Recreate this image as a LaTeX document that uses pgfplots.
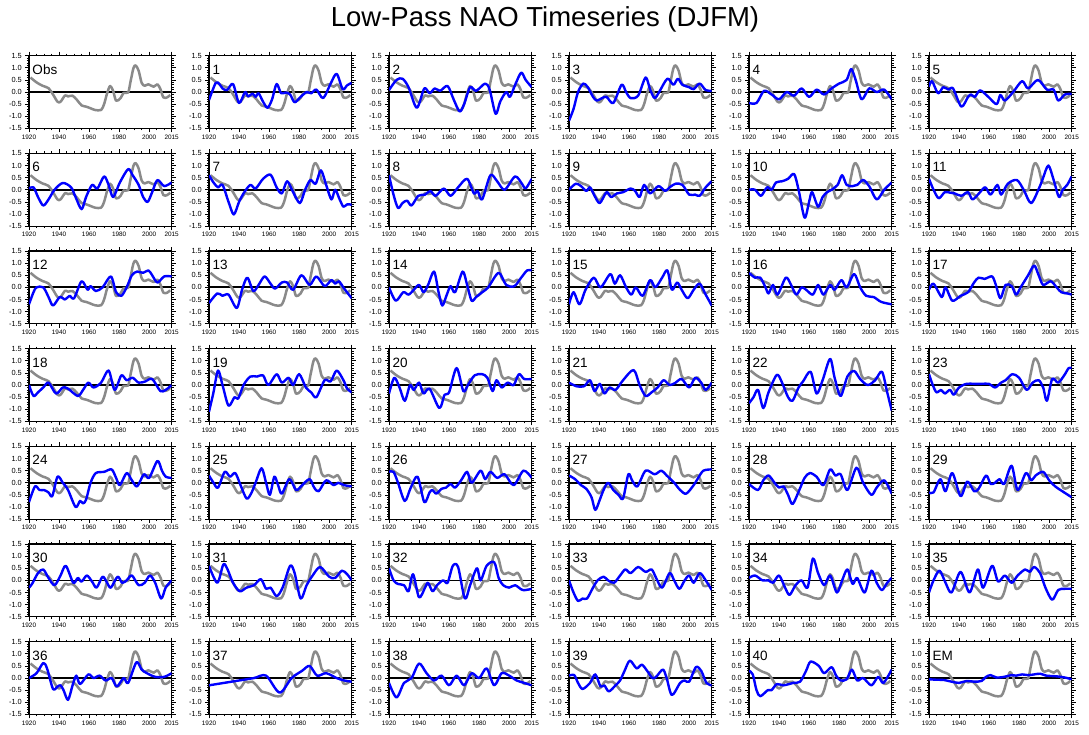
\documentclass[border=0pt]{standalone}
\usepackage{fontspec}
\setmainfont{Liberation Sans}
\usepackage{pgfplots}
\usepackage{pgfplotstable}
\pgfplotsset{compat=1.18}
\definecolor{obsgray}{RGB}{138,138,138}
\definecolor{mblue}{RGB}{0,0,255}

% observed low-pass NAO, repeated in every panel
\pgfplotstableread{
year nao
1921 0.60
1925 0.40
1929 0.26
1933 0.16
1936 -0.10
1939 -0.40
1941 -0.40
1944 -0.14
1946 -0.18
1949 -0.15
1952 -0.33
1955 -0.55
1958 -0.60
1961 -0.67
1964 -0.74
1968 -0.74
1970 -0.50
1972 -0.05
1974 0.25
1976 0.05
1978 -0.36
1981 -0.25
1983 -0.03
1986 -0.02
1987.5 0.40
1989.5 0.98
1991 1.10
1993 0.88
1995 0.38
1997 0.26
1999.5 0.32
2003 0.22
2005.5 0.32
2007.5 0.12
2009.5 -0.22
2012 -0.22
2014 -0.12
}\obstab

\pgfplotsset{
  panel/.style={
    scale only axis, width=142.7pt, height=72.7pt, anchor=north west,
    xmin=1920, xmax=2015, ymin=-1.5, ymax=1.5,
    xtick={1920,1940,1960,1980,2000,2015},
    xticklabels={1920,1940,1960,1980,2000,2015},
    minor xtick={1925,1930,1935,1945,1950,1955,1965,1970,1975,1985,1990,1995,2005,2010},
    ytick={-1.5,-1,-0.5,0,0.5,1,1.5},
    yticklabels={-1.5,-1.0,-0.5,0.0,0.5,1.0,1.5},
    minor y tick num=4,
    tick align=outside,
    major tick length=4pt, minor tick length=2pt,
    every tick/.style={black, line width=0.7pt},
    axis line style={line width=1.1pt},
    xticklabel style={font=\fontsize{6.4}{7}\selectfont, inner sep=1pt, yshift=-1pt},
    yticklabel style={font=\fontsize{7.4}{8}\selectfont, inner sep=1pt, xshift=-2pt},
  },
  zero/.style={black, line width=1.7pt, forget plot},
  obs/.style={obsgray, line width=2.5pt, smooth, line join=round},
  model/.style={mblue, line width=2.4pt, smooth, line join=round},
}

\newcommand{\plabel}[1]{\node[anchor=base west, inner sep=0pt, font=\fontsize{13.5}{14}\selectfont,
  xshift=3.3pt, yshift=-18.5pt] at (rel axis cs:0,1) {#1};}

\newcommand{\panel}[4]{%
  \begin{axis}[panel, at={(#1pt,-#2pt)}]
    \addplot[zero] coordinates {(1920,0) (2015,0)};
    \addplot[obs] table[x=year, y=nao] {\obstab};
    \addplot[model] coordinates {#4};
    \plabel{#3}
  \end{axis}}

\begin{document}
\begin{tikzpicture}[x=1pt,y=1pt]
\useasboundingbox (0,0) rectangle (1089,-735);
\node[font=\fontsize{27.5}{30}\selectfont, anchor=base] at (545,-27) {Low-Pass NAO Timeseries (DJFM)};

% row 0
\begin{axis}[panel, at={(29pt,-55.7pt)}]
  \addplot[zero] coordinates {(1920,0) (2015,0)};
  \addplot[obs] table[x=year, y=nao] {\obstab};
  \plabel{Obs}
\end{axis}
\panel{209}{55.7}{1}{(1920,-0.33) (1924.5,0.38) (1927,0.32) (1929,0.15) (1932,0.08) (1936,0.33) (1940,-0.45) (1944,0.0) (1946,-0.18) (1949,-0.06) (1951,-0.2) (1953,-0.05) (1956,-0.4) (1959,-0.65) (1962,-0.3) (1965,0.33) (1968,-0.05) (1971,-0.02) (1974,-0.1) (1977,-0.42) (1981,-0.2) (1985,0.0) (1988,-0.05) (1991.5,0.1) (1996,-0.25) (2001,0.35) (2005,0.75) (2009,0.12) (2012,0.28) (2015,0.38)}
\panel{389}{55.7}{2}{(1920,0.08) (1925,0.5) (1929,0.55) (1933,0.2) (1938.5,-0.65) (1943.5,0.15) (1947,-0.05) (1950.5,0.15) (1954,0.05) (1959,0.25) (1963,-0.3) (1967,-0.8) (1970,-0.5) (1974,0.2) (1978,0.05) (1984,0.35) (1987,0.1) (1991,-0.9) (1994,-0.4) (1998,0.0) (2000.5,-0.2) (2004,0.3) (2008,0.8) (2011,0.5) (2015,0.2)}
\panel{569}{55.7}{3}{(1920,-1.18) (1923,-0.7) (1926,0.0) (1929.5,0.35) (1932.5,0.2) (1936,-0.2) (1938.5,-0.35) (1942,-0.25) (1945,-0.2) (1949.5,-0.45) (1955,0.3) (1958,0.0) (1961,-0.25) (1966,-0.15) (1971,0.6) (1974,0.1) (1977,-0.25) (1980,0.0) (1985.5,0.55) (1989.5,0.3) (1992.5,0.55) (1995.5,0.3) (2000,0.2) (2003,0.12) (2007,0.35) (2011,0.08) (2015,0.05)}
\panel{749}{55.7}{4}{(1920,-0.45) (1925,-0.45) (1930,0.05) (1935,-0.1) (1940,-0.3) (1945,0.0) (1950,-0.15) (1955,0.15) (1960,-0.2) (1965,0.1) (1970,-0.1) (1975,0.15) (1980,0.35) (1985,0.5) (1988,0.95) (1991,0.5) (1995,-0.3) (2000,0.15) (2005,0.0) (2010,0.1) (2015,-0.3)}
\panel{929}{55.7}{5}{(1920,0.22) (1922,0.45) (1926,-0.05) (1929.5,0.2) (1933,0.1) (1936,0.15) (1941.5,-0.6) (1946,-0.2) (1948,-0.1) (1950.5,-0.2) (1954,0.07) (1959.5,-0.2) (1965,-0.5) (1967.5,-0.12) (1970.5,-0.35) (1976,0.0) (1982,0.45) (1986,0.15) (1992.5,0.5) (1998.5,0.1) (2003,0.1) (2006,-0.35) (2010.5,-0.1) (2015,-0.08)}

% row 1
\panel{29}{153.4}{6}{(1920,0.05) (1923,0.1) (1926,-0.3) (1929.5,-0.65) (1933,-0.4) (1937,0.0) (1942.5,0.28) (1948,0.1) (1951,-0.3) (1955,-0.8) (1958,-0.3) (1962,0.2) (1965.5,0.05) (1970,0.55) (1973,0.2) (1976,-0.3) (1980.5,0.3) (1986,0.85) (1989,0.6) (1993,0.2) (1996,-0.3) (1999,-0.5) (2002,-0.1) (2005.5,0.4) (2010,0.15) (2015,0.3)}
\panel{209}{153.4}{7}{(1920,0.6) (1923,0.3) (1926,0.1) (1929,0.2) (1933,-0.5) (1936.5,-1.02) (1940,-0.5) (1943,-0.15) (1947.5,0.2) (1951,0.05) (1956,0.45) (1961,0.62) (1965,0.1) (1968.5,-0.15) (1972,0.35) (1976,-0.1) (1980.5,-0.55) (1984,0.0) (1987.5,0.4) (1991,0.25) (1994.5,0.8) (1998,0.2) (2001.5,-0.4) (2004,0.0) (2007,-0.4) (2009.5,-0.7) (2012,-0.6) (2015,-0.62)}
\panel{389}{153.4}{8}{(1920,0.6) (1923,-0.2) (1926,-0.75) (1929,-0.55) (1932,-0.45) (1935,-0.65) (1939.5,-0.25) (1944,-0.2) (1947.5,-0.05) (1951,-0.25) (1956.5,0.05) (1961,-0.25) (1966,0.1) (1972,0.45) (1976.5,-0.15) (1979,-0.05) (1982,-0.4) (1987.5,0.6) (1992,0.35) (1997,0.0) (2004,0.55) (2009,0.2) (2011,0.05) (2015,0.45)}
\panel{569}{153.4}{9}{(1920,0.0) (1924.5,0.25) (1928,0.15) (1931.5,-0.05) (1934,0.1) (1937,-0.25) (1940.5,-0.55) (1945,-0.1) (1948,-0.3) (1952,-0.15) (1956,-0.1) (1961,0.05) (1964,-0.05) (1967,-0.3) (1970,0.2) (1974,-0.15) (1979.5,0.15) (1984,-0.05) (1987,0.1) (1991,0.25) (1995.5,0.2) (2000,-0.2) (2004,-0.2) (2007,-0.25) (2011,0.1) (2015,0.35)}
\panel{749}{153.4}{10}{(1920,0.0) (1924,0.0) (1928,-0.25) (1932,0.1) (1935,0.0) (1938,0.3) (1942,0.35) (1946,0.45) (1950,0.65) (1953,0.0) (1957,-1.15) (1960,-0.5) (1962,-0.1) (1966,-0.7) (1969,-0.3) (1972,-0.1) (1975,0.0) (1979,0.2) (1982,0.6) (1985,0.2) (1989,0.15) (1992,0.2) (1996,0.4) (2000,0.15) (2005,-0.4) (2010,0.0) (2015,0.3)}
\panel{929}{153.4}{11}{(1920,0.45) (1923,0.0) (1926.5,-0.35) (1930.5,-0.1) (1934,-0.12) (1937,-0.15) (1941.5,-0.25) (1946,-0.1) (1949,-0.4) (1954,-0.1) (1957.5,0.1) (1961,-0.2) (1965.5,0.2) (1968,-0.2) (1972.5,0.25) (1978.5,0.4) (1983,0.0) (1988,-0.55) (1993.5,0.1) (1996,0.5) (1999.5,1.0) (2003,0.4) (2006.5,-0.3) (2009,0.0) (2012,0.2) (2015,0.55)}

% row 2
\panel{29}{251}{12}{(1920,-0.7) (1923,-0.2) (1925,0.0) (1929.5,0.0) (1933,-0.4) (1936,-0.75) (1940.5,-0.4) (1944,-0.5) (1947,-0.35) (1950,-0.45) (1955,0.25) (1959,-0.1) (1961,0.05) (1964.5,-0.15) (1969,0.0) (1974.5,0.45) (1978,-0.2) (1981.5,-0.35) (1985,0.0) (1988.5,0.5) (1992,0.65) (1996,0.6) (1999.5,0.7) (2002,0.5) (2005.5,0.2) (2010,0.45) (2015,0.45)}
\panel{209}{251}{13}{(1920,-0.65) (1925.5,-0.25) (1929,-0.35) (1933,-0.3) (1938.5,-0.85) (1942,-0.1) (1945.5,0.4) (1949.5,-0.15) (1953,0.1) (1957,0.45) (1961,0.15) (1964,-0.05) (1968.5,0.2) (1972,0.2) (1976,-0.1) (1981.5,0.5) (1987,0.1) (1991.5,0.45) (1997,0.05) (2001.5,0.3) (2004,0.15) (2006.5,0.25) (2010,-0.05) (2015,-0.45)}
\panel{389}{251}{14}{(1920,0.0) (1924.5,-0.55) (1929.5,-0.2) (1933,-0.3) (1936.5,-0.1) (1940,0.1) (1943,-0.2) (1946,0.1) (1950,0.65) (1953,-0.2) (1955.5,-0.75) (1958.5,-0.3) (1961,0.05) (1964,-0.2) (1969,0.65) (1972,0.1) (1975,-0.55) (1978,-0.4) (1981,-0.25) (1986,0.0) (1993,0.6) (1998,0.1) (2003.5,0.05) (2008,0.4) (2012,0.7) (2015,0.7)}
\panel{569}{251}{15}{(1920,-0.7) (1923,-0.2) (1927,-0.7) (1931,-0.1) (1936.5,0.4) (1941,0.0) (1947.5,0.55) (1950.5,0.15) (1954,0.5) (1958,0.0) (1961.5,-0.3) (1964.5,0.0) (1969,-0.35) (1974,0.3) (1977.5,0.0) (1982,0.4) (1985.5,0.7) (1988.5,-0.1) (1992,0.2) (1995,-0.1) (1999,-0.45) (2003,-0.1) (2007,0.15) (2011,-0.3) (2015,-0.75)}
\panel{749}{251}{16}{(1920,0.6) (1924,0.4) (1927.5,0.4) (1931,0.0) (1933,-0.25) (1936,0.1) (1939,-0.3) (1944.5,0.4) (1948,0.1) (1951.5,-0.3) (1955,0.0) (1958,-0.1) (1962.5,-0.3) (1966,0.1) (1969.5,-0.3) (1974,0.1) (1977,-0.1) (1981.5,0.3) (1985,0.0) (1990,0.55) (1994,0.0) (1998,-0.35) (2003,-0.4) (2008,-0.6) (2015,-0.7)}
\panel{929}{251}{17}{(1920,-0.1) (1923,0.15) (1928.5,-0.4) (1931,0.0) (1935.5,-0.55) (1941,-0.35) (1946,-0.2) (1950,0.2) (1953,0.4) (1957,0.35) (1962,0.45) (1964.5,0.1) (1967.5,-0.45) (1971,0.1) (1975,0.05) (1978,-0.3) (1981,0.0) (1986,0.5) (1990,0.9) (1993,0.5) (1996,0.1) (2001,0.25) (2005,0.0) (2008,-0.2) (2012,-0.25) (2015,-0.3)}

% row 3
\panel{29}{348.7}{18}{(1920,0.0) (1923,-0.45) (1926,-0.3) (1929.5,-0.1) (1933,0.1) (1938,-0.35) (1942.5,-0.1) (1946,-0.15) (1952.5,-0.45) (1956,-0.2) (1959.5,0.1) (1963,-0.1) (1968,0.1) (1973,0.6) (1977,-0.2) (1981.5,0.4) (1985,0.2) (1989,0.3) (1993,0.1) (1997.5,0.15) (2002,0.25) (2007.5,-0.25) (2011,-0.2) (2015,0.0)}
\panel{209}{348.7}{19}{(1920,-1.1) (1923,-0.3) (1926,0.6) (1929,0.0) (1933,-0.85) (1937,-0.5) (1939.5,-0.55) (1943,0.0) (1947.5,0.35) (1952,0.35) (1956,0.4) (1959.5,0.0) (1965,0.45) (1968.5,0.1) (1973,0.3) (1976,0.0) (1980,0.45) (1984.5,-0.1) (1988,-0.3) (1991.5,-0.5) (1997,0.2) (2001,0.15) (2005,0.6) (2009.5,0.2) (2012,-0.15) (2015,-0.3)}
\panel{389}{348.7}{20}{(1920,-0.35) (1923.5,0.3) (1927,-0.1) (1930.5,-0.65) (1934,0.0) (1936.5,-0.2) (1940,0.1) (1943,-0.35) (1947,-0.15) (1953.5,-0.95) (1957,-0.4) (1960,-0.3) (1965,0.7) (1969.5,-0.25) (1972.5,0.0) (1977,0.4) (1982,0.45) (1985.5,0.3) (1989,-0.25) (1991.5,0.2) (1995,-0.1) (1999,0.1) (2003,0.0) (2006.5,0.45) (2010,0.25) (2015,0.25)}
\panel{569}{348.7}{21}{(1920,0.1) (1925,-0.05) (1930,-0.05) (1934,0.2) (1937,-0.25) (1940.5,0.05) (1943.5,-0.35) (1947,-0.1) (1951,-0.2) (1956,0.2) (1963,0.62) (1967,0.0) (1971,-0.45) (1975,-0.3) (1979,-0.1) (1983,0.2) (1987,0.0) (1991,0.1) (1995,0.25) (2000,-0.1) (2004,0.3) (2008,0.1) (2011,-0.2) (2015,0.1)}
\panel{749}{348.7}{22}{(1920,-0.75) (1923,-0.5) (1926,-0.2) (1929.5,-0.95) (1933,-0.3) (1938.5,0.42) (1942,0.1) (1946,-0.5) (1949,-0.65) (1953,-0.1) (1956,0.15) (1961,0.55) (1965,-0.35) (1969,0.2) (1974,1.08) (1977,0.3) (1981,-0.45) (1985.5,0.35) (1990,0.58) (1994,0.25) (1999,0.0) (2004,0.2) (2008.5,0.55) (2012,-0.3) (2015,-1.05)}
\panel{929}{348.7}{23}{(1920,0.45) (1922.5,0.0) (1925,-0.3) (1928,-0.2) (1930.5,-0.35) (1934,-0.2) (1936.5,-0.4) (1940,-0.1) (1945,0.05) (1950,0.05) (1955,0.05) (1960,0.05) (1964,-0.1) (1968,0.1) (1971,0.2) (1975.5,0.45) (1980,0.3) (1985,-0.2) (1989,0.1) (1993,0.2) (1996,-0.1) (1998.5,-0.65) (2002,0.25) (2006,0.1) (2010,0.4) (2013,0.7) (2015,0.7)}

% row 4
\panel{29}{446.4}{24}{(1920,-0.8) (1924,-0.15) (1927,-0.3) (1930,-0.3) (1933,-0.4) (1935.5,-0.55) (1939,0.25) (1942.5,0.0) (1946,-0.3) (1951,-1.0) (1954,-0.75) (1956,-0.85) (1958,-0.7) (1961,0.0) (1964.5,0.4) (1970,0.45) (1975,0.55) (1978,0.2) (1980.5,-0.1) (1985,0.4) (1988.5,0.1) (1992,-0.15) (1996.5,0.35) (2000,0.2) (2005.5,0.9) (2008.5,0.5) (2011,0.25) (2015,0.2)}
\panel{209}{446.4}{25}{(1920,0.3) (1923,0.0) (1926,-0.2) (1930.5,0.45) (1934,0.25) (1937.5,0.4) (1941,-0.1) (1945,-0.65) (1948,-0.45) (1951,0.0) (1955,0.6) (1958,0.0) (1960.5,-0.5) (1963.5,0.25) (1966,-0.1) (1968.5,-0.45) (1973.5,0.15) (1978,-0.3) (1982,-0.1) (1987,0.15) (1990,-0.2) (1993,-0.35) (1998,0.1) (2003,-0.1) (2006,0.0) (2010,-0.1) (2015,-0.15)}
\panel{389}{446.4}{26}{(1920,0.45) (1923,0.45) (1926,0.0) (1930.5,-0.75) (1934.5,-0.2) (1939,0.25) (1943.5,-0.8) (1947,-0.4) (1949,-0.3) (1951.5,-0.45) (1955,-0.25) (1958,-0.2) (1961,-0.05) (1964,-0.2) (1968,0.1) (1972,0.45) (1975,0.0) (1981,0.5) (1984,0.15) (1987.5,0.45) (1992,0.2) (1997,0.35) (2003,-0.1) (2009.5,0.5) (2015,0.2)}
\panel{569}{446.4}{27}{(1920,0.3) (1924,0.15) (1928,-0.1) (1931.5,-0.25) (1935,-0.6) (1937.5,-1.12) (1940.5,-0.7) (1943,-0.3) (1946,0.0) (1949.5,-0.3) (1953,-0.5) (1956,-0.65) (1959.5,0.35) (1962,0.1) (1965.5,-0.15) (1971,0.5) (1977,0.35) (1981.5,0.5) (1985,0.3) (1990,0.0) (1994,-0.3) (1998,-0.45) (2003,-0.1) (2006,0.2) (2009.5,0.5) (2015,0.55)}
\panel{749}{446.4}{28}{(1920,-0.05) (1926,-0.3) (1929.5,0.1) (1933,0.3) (1937,0.0) (1940,-0.2) (1943,-0.15) (1946,-0.5) (1949,-0.88) (1953.5,-0.3) (1957,0.2) (1960.5,0.4) (1965,0.25) (1969.5,-0.1) (1974,0.55) (1977.5,0.3) (1981,0.35) (1985.5,-0.3) (1991.5,0.62) (1996,0.0) (2001.5,-0.5) (2005,-0.2) (2010,0.1) (2015,-0.45)}
\panel{929}{446.4}{29}{(1920,-0.4) (1923,-0.4) (1927.5,0.15) (1931,-0.35) (1935.5,0.4) (1941,-0.55) (1945.5,0.05) (1950,-0.35) (1953,-0.25) (1958,0.3) (1961,-0.05) (1964,0.0) (1967,0.15) (1970,-0.05) (1975,0.7) (1979,-0.3) (1984.5,0.4) (1988,0.1) (1991,0.3) (1996,0.45) (2000,0.1) (2004,-0.15) (2010,-0.4) (2015,-0.6)}

% row 5
\panel{29}{544}{30}{(1920,-0.3) (1922,-0.15) (1926,0.3) (1929.5,0.45) (1933,0.1) (1937,-0.2) (1941,0.2) (1944.5,0.6) (1949.5,-0.1) (1952.5,0.1) (1955,-0.05) (1958.5,0.2) (1962,-0.05) (1965,-0.3) (1969,0.15) (1972,-0.1) (1974.5,-0.3) (1979,0.15) (1982,-0.1) (1985,0.0) (1988.5,0.2) (1993,-0.2) (1997,-0.1) (2000.5,0.2) (2004,-0.1) (2008,-0.75) (2011,-0.3) (2015,0.0)}
\panel{209}{544}{31}{(1920,0.6) (1925.5,-0.1) (1929.5,0.65) (1932,0.5) (1936,-0.1) (1940.5,-0.45) (1945,-0.3) (1950,-0.2) (1954.5,0.05) (1958,-0.35) (1961,-0.3) (1965,-0.65) (1969,-0.3) (1974,0.6) (1977,0.3) (1981,-0.75) (1985,-0.2) (1989,0.2) (1994,0.55) (2000,0.15) (2004,0.1) (2008.5,0.4) (2012,0.25) (2015,0.0)}
\panel{389}{544}{32}{(1920,0.5) (1923,0.0) (1926,-0.15) (1930,-0.2) (1933,-0.45) (1936,0.25) (1940,-0.7) (1944,-0.3) (1946,-0.1) (1949,-0.45) (1952,-0.2) (1956,0.0) (1959,-0.1) (1962.5,0.6) (1966,0.55) (1970.5,-0.75) (1974,-0.2) (1978.5,0.5) (1981,0.0) (1985,0.6) (1990,0.75) (1993,0.1) (1996,-0.2) (2000,-0.3) (2004,-0.2) (2009,-0.4) (2015,-0.35)}
\panel{569}{544}{33}{(1920,0.0) (1923,-0.5) (1926,-0.85) (1929,-0.75) (1932,-0.75) (1936,-0.3) (1939,0.0) (1943,0.15) (1946,0.0) (1950,-0.1) (1954,0.2) (1957.5,0.45) (1961,0.3) (1966,0.55) (1971,0.35) (1975,0.45) (1978,0.1) (1982,-0.3) (1987,0.3) (1990,0.0) (1993.5,-0.35) (1997,0.0) (2000,0.2) (2003,-0.1) (2007,0.3) (2011,0.0) (2015,-0.4)}
\panel{749}{544}{34}{(1920,0.1) (1924,0.2) (1929,0.0) (1933,0.0) (1936,-0.1) (1940,0.2) (1944,-0.3) (1947,-0.6) (1951,-0.2) (1955,0.0) (1959,-0.3) (1962.5,0.9) (1966,0.3) (1970,-0.2) (1974,0.2) (1978.5,-0.5) (1982,0.0) (1985.5,0.45) (1989,-0.15) (1992,0.1) (1997,-0.5) (2001.5,0.4) (2005,-0.1) (2008.5,-0.4) (2012,-0.1) (2015,0.1)}
\panel{929}{544}{35}{(1920,-0.5) (1923,0.0) (1927,0.4) (1931,-0.1) (1935,-0.5) (1941,0.35) (1947,-0.5) (1952.5,0.45) (1956,-0.3) (1962,0.6) (1966,-0.05) (1970.5,0.2) (1975,-0.1) (1979,0.2) (1984,0.45) (1987,0.35) (1990,0.55) (1994,0.3) (1997.5,-0.3) (2002,-0.8) (2006,-0.4) (2010,-0.35) (2015,-0.35)}

% row 6
\panel{29}{641.7}{36}{(1920,0.0) (1925,0.2) (1929.5,0.62) (1932,0.4) (1936,-0.45) (1939,-0.35) (1941,-0.3) (1943,-0.5) (1946,-0.9) (1949,-0.3) (1951.5,0.1) (1954,-0.25) (1959.5,0.15) (1963,0.0) (1967,0.1) (1971,-0.1) (1975,0.0) (1978.5,-0.35) (1983,0.0) (1986,-0.2) (1991.5,0.65) (1995,0.35) (1998.5,0.2) (2004,0.05) (2010,0.05) (2015,0.2)}
\panel{209}{641.7}{37}{(1920,-0.3) (1930,-0.2) (1940,-0.1) (1950,0.0) (1958,0.1) (1967,-0.6) (1975,0.0) (1982,0.3) (1987,0.5) (1992,0.1) (1998,0.2) (2005,0.0) (2010,-0.1) (2015,-0.15)}
\panel{389}{641.7}{38}{(1920,-0.2) (1925,-0.8) (1930,-0.2) (1935,0.0) (1940,0.6) (1945,0.2) (1950,-0.1) (1955,0.1) (1960,-0.3) (1965,0.1) (1970,-0.3) (1975,0.2) (1980,0.0) (1985,0.4) (1990,-0.3) (1995,0.2) (2000,0.1) (2005,-0.1) (2010,-0.2) (2015,-0.3)}
\panel{569}{641.7}{39}{(1920,0.1) (1923.5,0.12) (1926,-0.2) (1929,-0.45) (1934,-0.2) (1937.5,0.15) (1941,-0.35) (1943.5,-0.3) (1946.5,-0.55) (1951,-0.3) (1954,-0.1) (1957,0.3) (1960.5,0.72) (1965,0.4) (1968.5,0.55) (1972,0.3) (1975.5,0.0) (1978,0.05) (1982.5,0.35) (1985,0.0) (1988.5,-0.7) (1994,-0.2) (1997,-0.1) (2000,-0.15) (2004.5,0.45) (2008,0.3) (2011.5,-0.2) (2015,-0.3)}
\panel{749}{641.7}{40}{(1920,0.3) (1922.5,0.15) (1925,-0.5) (1927.5,-0.75) (1932.5,-0.5) (1935,-0.5) (1938.5,-0.25) (1943,-0.3) (1949.5,-0.2) (1954,-0.15) (1958,0.3) (1961,0.68) (1966.5,0.5) (1970,0.2) (1975,0.45) (1978,0.1) (1981,-0.1) (1985,-0.05) (1988.5,0.35) (1992,-0.1) (1996,0.0) (2001.5,-0.3) (2006,0.05) (2009.5,-0.2) (2015,0.35)}
\panel{929}{641.7}{EM}{(1920,-0.05) (1925,-0.07) (1930,-0.08) (1935,-0.15) (1940,-0.2) (1945,-0.12) (1950,-0.15) (1955,-0.12) (1958,0.05) (1961,0.12) (1965,0.02) (1970,0.05) (1975,0.12) (1978,0.1) (1982,0.15) (1986,0.12) (1990,0.15) (1994,0.18) (1998,0.1) (2003,0.08) (2008,0.05) (2012,0.0) (2015,-0.05)}
\end{tikzpicture}
\end{document}
